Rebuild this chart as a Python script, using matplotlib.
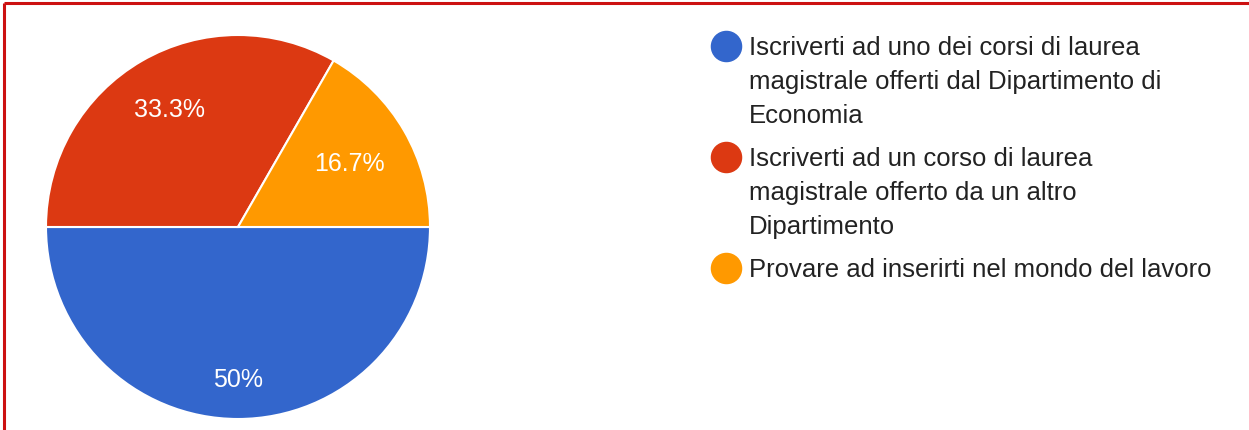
import matplotlib
matplotlib.use("Agg")
import matplotlib.pyplot as plt
import numpy as np

# data
labels = [
    "Iscriverti ad uno dei corsi di laurea\nmagistrale offerti dal Dipartimento di\nEconomia",
    "Iscriverti ad un corso di laurea\nmagistrale offerto da un altro\nDipartimento",
    "Provare ad inserirti nel mondo del lavoro",
]
values = [50, 33.3, 16.7]
pct_text = ["50%", "33.3%", "16.7%"]
colors = ["#3366cc", "#dc3912", "#ff9900"]

plt.rcParams['font.family'] = ['Liberation Sans', 'DejaVu Sans']

W, H = 1249, 431
fig = plt.figure(figsize=(W / 100, H / 100), dpi=100)

# pie axes (square box in pixels)
cx, cy, r = 238, 228, 192
ax = fig.add_axes([(cx - r) / W, (H - cy - r) / H, 2 * r / W, 2 * r / H])
wedges, _ = ax.pie(values, colors=colors, startangle=0, counterclock=False,
                   wedgeprops=dict(edgecolor="white", linewidth=1.5))
ax.set_xlim(-1, 1)
ax.set_ylim(-1, 1)
ax.set_aspect("equal")

# percent labels inside the wedges
dist = [0.79, 0.71, 0.67]
for w, t, d in zip(wedges, pct_text, dist):
    mid = np.deg2rad((w.theta1 + w.theta2) / 2)
    ax.text(d * np.cos(mid), d * np.sin(mid), t, color="white", fontsize=18,
            ha="center", va="center")

# overlay in pixel coordinates for legend and frame
ov = fig.add_axes([0, 0, 1, 1], facecolor="none")
ov.set_xlim(0, W)
ov.set_ylim(H, 0)
ov.axis("off")

y = 47
for lab, c in zip(labels, colors):
    ov.scatter([726], [y], s=470, color=c, zorder=3)
    for line in lab.split("\n"):
        ov.text(749, y + 1, line, fontsize=18.5, color="#222222", va="center", ha="left")
        y += 34
    y += 9  # gap between entries

# red frame (top and left only visible)
ov.plot([4, W], [4, 4], color="#cc1111", lw=2.2, solid_capstyle="butt")
ov.plot([4, 4], [4, H], color="#cc1111", lw=2.2, solid_capstyle="butt")

fig.savefig("out.png", dpi=100)
